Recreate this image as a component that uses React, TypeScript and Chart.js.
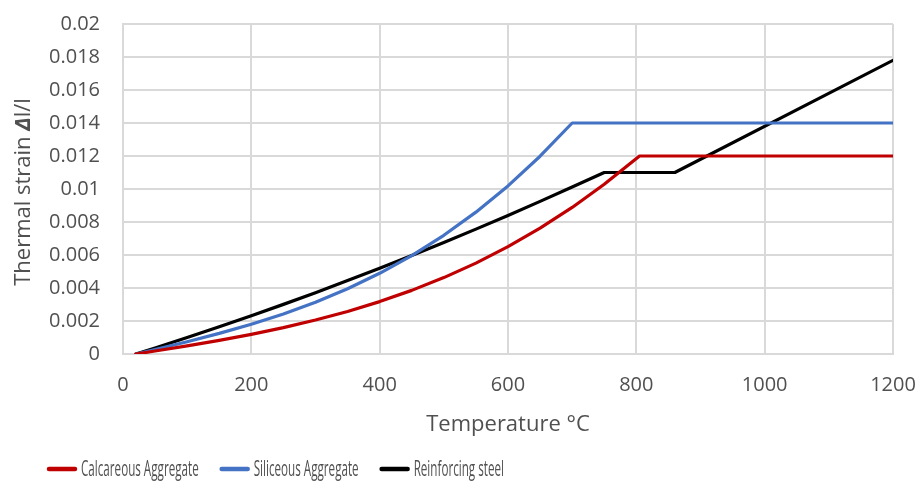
import React, { useEffect, useRef } from "react";
import { Chart, registerables } from "chart.js";

Chart.register(...registerables);

// Temperatures (°C) and thermal strain Δl/l for each material
const calcTemps = [20, 50, 100, 150, 200, 250, 300, 350, 400, 450, 500, 550, 600, 650, 700, 750, 805, 1200];
const calcStrain = [0, 0.000182, 0.000494, 0.000827, 0.001192, 0.001599, 0.002058, 0.00258, 0.003176, 0.003856, 0.00463, 0.005509, 0.006504, 0.007625, 0.008882, 0.010286, 0.012, 0.012];

const silTemps = [20, 50, 100, 150, 200, 250, 300, 350, 400, 450, 500, 550, 600, 650, 700, 1200];
const silStrain = [0, 0.000273, 0.000743, 0.001248, 0.001804, 0.002429, 0.003141, 0.003956, 0.004892, 0.005966, 0.007195, 0.008597, 0.010188, 0.011986, 0.014, 0.014];

const steelTemps = [20, 50, 100, 150, 200, 250, 300, 350, 400, 450, 500, 550, 600, 650, 700, 750, 860, 1200];
const steelStrain = [0, 0.000368, 0.000998, 0.001648, 0.002318, 0.003008, 0.003718, 0.004448, 0.005198, 0.005968, 0.006758, 0.007568, 0.008398, 0.009248, 0.010118, 0.011, 0.011, 0.0178];

const seriesLabels = ["Calcareous Aggregate", "Siliceous Aggregate", "Reinforcing steel"];
const seriesColors = ["#C00000", "#4472C4", "#000000"];

const xTitle = "Temperature °C";
// y-axis title pieces: [text, italic-bold?]
const yTitleParts: [string, boolean][] = [["Thermal strain ", false], ["Δ", true], ["l/l", false]];

const TEXT = "#505050";
const GRID = "#d9d9d9";
const FONT = "'Open Sans', sans-serif";

const toPoints = (xs: number[], ys: number[]) => xs.map((x, i) => ({ x, y: ys[i] }));

// Vertical y-axis title with the Δ set in bold italic
const yAxisTitle = {
  id: "yAxisTitle",
  afterDraw(chart: any) {
    const ctx = chart.ctx;
    const area = chart.chartArea;
    const fontFor = (em: boolean) => (em ? `italic bold 22px ${FONT}` : `22px ${FONT}`);
    ctx.save();
    const widths = yTitleParts.map(([t, em]) => {
      ctx.font = fontFor(em);
      return ctx.measureText(t).width;
    });
    const total = widths.reduce((a, b) => a + b, 0);
    ctx.translate(24, (area.top + area.bottom) / 2 + 3);
    ctx.rotate(-Math.PI / 2);
    ctx.fillStyle = TEXT;
    ctx.textBaseline = "middle";
    ctx.textAlign = "left";
    let pos = -total / 2;
    yTitleParts.forEach(([t, em], i) => {
      ctx.font = fontFor(em);
      ctx.fillText(t, pos, 0);
      pos += widths[i];
    });
    ctx.restore();
  },
};

// Condensed legend drawn under the axis title
const bottomLegend = {
  id: "bottomLegend",
  afterDraw(chart: any) {
    const ctx = chart.ctx;
    const squeeze = 0.555;
    const lineLen = 30;
    const lineGap = 4;
    const itemGap = 21;
    const y = 469;
    ctx.save();
    ctx.font = `21px ${FONT}`;
    let x = 47;
    chart.data.datasets.forEach((ds: any) => {
      const w = ctx.measureText(ds.label).width * squeeze;
      ctx.strokeStyle = ds.borderColor;
      ctx.lineWidth = 4.5;
      ctx.lineCap = "round";
      ctx.beginPath();
      ctx.moveTo(x + 2, y);
      ctx.lineTo(x + lineLen - 2, y);
      ctx.stroke();
      x += lineLen + lineGap;
      ctx.save();
      ctx.translate(x, y);
      ctx.scale(squeeze, 1);
      ctx.fillStyle = TEXT;
      ctx.textBaseline = "middle";
      ctx.textAlign = "left";
      ctx.fillText(ds.label, 0, 1);
      ctx.restore();
      x += w + itemGap;
    });
    ctx.restore();
  },
};

export default function App() {
  const canvasRef = useRef<HTMLCanvasElement>(null);

  useEffect(() => {
    if (!canvasRef.current) return;
    const chart = new Chart(canvasRef.current, {
      type: "line",
      data: {
        datasets: [
          { label: seriesLabels[0], data: toPoints(calcTemps, calcStrain), borderColor: seriesColors[0], backgroundColor: seriesColors[0] },
          { label: seriesLabels[1], data: toPoints(silTemps, silStrain), borderColor: seriesColors[1], backgroundColor: seriesColors[1] },
          { label: seriesLabels[2], data: toPoints(steelTemps, steelStrain), borderColor: seriesColors[2], backgroundColor: seriesColors[2] },
        ],
      },
      options: {
        animation: false,
        responsive: true,
        maintainAspectRatio: false,
        layout: { padding: { top: 24, right: 28, left: 0, bottom: 0 } },
        elements: {
          line: { borderWidth: 3.2, tension: 0, borderJoinStyle: "round", borderCapStyle: "round" },
          point: { radius: 0, hoverRadius: 0 },
        },
        plugins: {
          legend: { display: false },
          tooltip: { enabled: false },
        },
        scales: {
          x: {
            type: "linear",
            min: 0,
            max: 1200,
            ticks: {
              stepSize: 200,
              color: TEXT,
              padding: 19,
              font: { family: FONT, size: 20 },
              maxRotation: 0,
              callback: (v: any) => String(v),
            },
            grid: { color: GRID, lineWidth: 2, drawTicks: false },
            border: { color: GRID, width: 2 },
            title: { display: true, text: xTitle, color: TEXT, font: { family: FONT, size: 22 }, padding: { top: 0, bottom: 44 } },
            afterFit: (scale: any) => {
              scale.height = 128;
              scale.paddingLeft = 0;
              scale.paddingRight = 0;
            },
          },
          y: {
            type: "linear",
            min: 0,
            max: 0.02,
            ticks: {
              stepSize: 0.002,
              color: TEXT,
              padding: 23,
              font: { family: FONT, size: 20 },
              callback: (v: any) => String(Number(Number(v).toFixed(3))),
            },
            grid: { color: GRID, lineWidth: 2, drawTicks: false },
            border: { color: GRID, width: 2 },
            title: { display: false },
            afterFit: (scale: any) => {
              scale.width = 123;
              scale.paddingTop = 0;
              scale.paddingBottom = 0;
            },
          },
        },
      },
      plugins: [yAxisTitle, bottomLegend],
    });
    return () => chart.destroy();
  }, []);

  return (
    <div style={{ position: "fixed", left: 0, top: 0, width: 921, height: 482, background: "#fff" }}>
      <canvas ref={canvasRef} />
    </div>
  );
}
